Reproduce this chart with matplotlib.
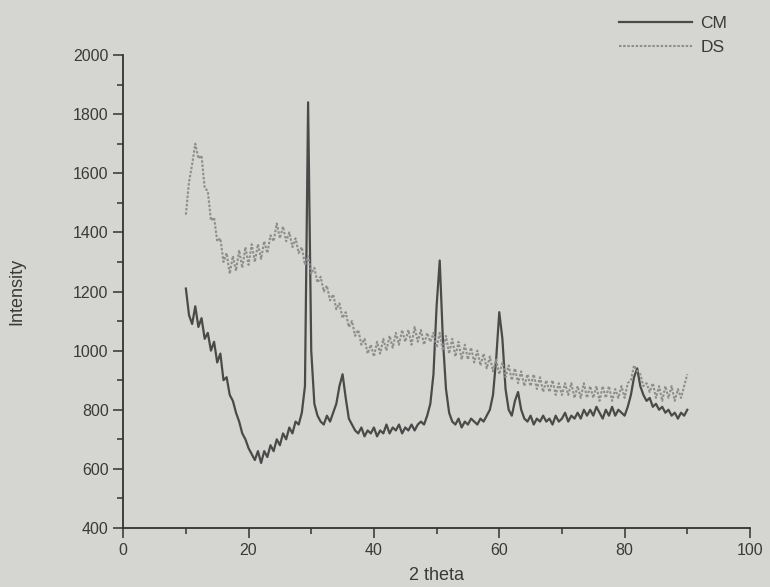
import numpy as np
import matplotlib
matplotlib.use("Agg")
import matplotlib.pyplot as plt
from matplotlib.ticker import MultipleLocator

plt.rcParams['font.family'] = ['Liberation Sans', 'DejaVu Sans']

# 2 theta grid, 10 to 90 deg every 0.5 deg
two_theta = np.arange(10.0, 90.01, 0.5)

# CM pattern (rows of 5 deg)
cm = [
    1210, 1120, 1090, 1150, 1080, 1110, 1040, 1060, 1000, 1030,
    960, 990, 900, 910, 850, 830, 790, 760, 720, 700,
    670, 650, 630, 660, 620, 660, 640, 680, 660, 700,
    680, 720, 700, 740, 720, 760, 750, 790, 880, 1840,
    1000, 820, 780, 760, 750, 780, 760, 790, 820, 880,
    920, 840, 770, 750, 730, 720, 740, 710, 730, 720,
    740, 710, 730, 720, 750, 720, 740, 730, 750, 720,
    740, 730, 750, 730, 750, 760, 750, 780, 820, 920,
    1150, 1305, 1040, 870, 790, 760, 750, 770, 740, 760,
    750, 770, 760, 750, 770, 760, 780, 800, 850, 970,
    1130, 1040, 870, 800, 780, 830, 860, 800, 770, 760,
    780, 750, 770, 760, 780, 760, 770, 750, 780, 760,
    770, 790, 760, 780, 770, 790, 770, 800, 780, 800,
    780, 810, 790, 770, 800, 780, 810, 780, 800, 790,
    780, 810, 850, 910, 940, 880, 850, 830, 840, 810,
    820, 800, 810, 790, 800, 780, 790, 770, 790, 780,
    800,
]

# DS pattern
ds = [
    1460, 1570, 1630, 1700, 1650, 1660, 1550, 1540, 1440, 1450,
    1370, 1380, 1300, 1330, 1260, 1320, 1270, 1340, 1280, 1350,
    1290, 1360, 1300, 1360, 1310, 1370, 1330, 1390, 1370, 1430,
    1380, 1420, 1370, 1400, 1350, 1380, 1330, 1350, 1290, 1320,
    1260, 1280, 1230, 1250, 1200, 1220, 1170, 1190, 1140, 1160,
    1110, 1130, 1080, 1100, 1050, 1070, 1020, 1040, 990, 1020,
    980, 1030, 990, 1040, 1000, 1050, 1010, 1060, 1020, 1070,
    1030, 1070, 1020, 1080, 1030, 1070, 1020, 1060, 1030, 1060,
    1010, 1060, 1000, 1050, 990, 1040, 980, 1030, 970, 1020,
    970, 1010, 960, 1000, 950, 990, 940, 980, 930, 970,
    920, 960, 910, 950, 900, 940, 890, 930, 880, 920,
    880, 920, 870, 910, 860, 900, 860, 900, 850, 890,
    850, 890, 850, 890, 840, 880, 840, 890, 840, 880,
    840, 880, 830, 880, 840, 880, 830, 870, 840, 880,
    840, 890, 900, 950, 930, 920, 880, 890, 860, 890,
    840, 880, 830, 880, 840, 880, 830, 870, 840, 880,
    920,
]

bg = '#d5d5d1'
ink = '#333333'
txt = '#3a3a3a'

fig = plt.figure(figsize=(7.7, 5.87), dpi=100, facecolor=bg)
ax = fig.add_axes([0.16, 0.1005, 0.814, 0.8058], facecolor=bg)

ax.plot(two_theta, cm, color='#4a4a4a', lw=1.6, label='CM')
ax.plot(two_theta, ds, color='#8e8e8e', lw=1.5, ls=(0, (1.2, 0.8)), label='DS')

ax.set_xlim(0, 100)
ax.set_ylim(400, 2000)
ax.xaxis.set_major_locator(MultipleLocator(20))
ax.xaxis.set_minor_locator(MultipleLocator(10))
ax.yaxis.set_major_locator(MultipleLocator(200))
ax.yaxis.set_minor_locator(MultipleLocator(100))

for s in ['top', 'right']:
    ax.spines[s].set_visible(False)
for s in ['left', 'bottom']:
    ax.spines[s].set_color(ink)
    ax.spines[s].set_linewidth(1.3)

ax.tick_params(which='major', direction='out', length=7, width=1.1, colors=ink,
               labelsize=11.5, labelcolor=txt)
ax.tick_params(which='minor', direction='out', length=4, width=1.1, colors=ink)

ax.set_xlabel('2 theta', fontsize=13, color=txt, labelpad=7)
ax.set_ylabel('Intensity', fontsize=13, color=txt, labelpad=34)

fig.legend(loc='upper right', bbox_to_anchor=(0.965, 1.0), frameon=False,
           fontsize=12.5, handlelength=4.2, labelcolor=txt,
           handletextpad=0.5, labelspacing=0.5)

fig.savefig('out.png', dpi=100, facecolor=bg)
